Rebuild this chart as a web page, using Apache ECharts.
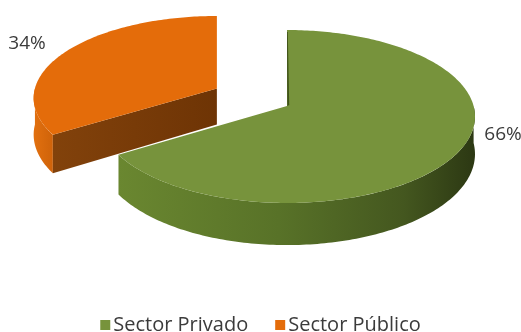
<!DOCTYPE html>
<html>
<head>
<meta charset="utf-8">
<script src="https://cdn.jsdelivr.net/npm/echarts@6/dist/echarts.min.js"></script>
<style>
  html, body { margin: 0; padding: 0; background: #ffffff; }
  #chart { width: 521px; height: 332px; }
</style>
</head>
<body>
<div id="chart"></div>
<script>
// Share of employment by sector (percent)
const categories = ['Sector Privado', 'Sector Público'];
const values = [66, 34];

// Per-slice styling: top face, outer wall gradient, cut face, how far the slice is pulled out
const topColors = ['#77933c', '#e46c0a'];
const wallStops = [
  [['#6a8730', 0], ['#587228', 0.45], ['#44571f', 0.8], ['#2c3813', 1]],
  [['#e2700f', 0], ['#cf630a', 1]]
];
const cutColors = [['#4f6424', '#3d4e1b'], ['#82420b', '#6e3405']];
const edgeColors = ['#3f5219', '#8a4306'];
const explode = [0, 0.44];
const labelAnchors = [[503, 135], [27, 44]];

// Pseudo-3D projection of the pie disc: u to the right, v toward the viewer, z downward
const CX = 287, CY = 106, RX = 186.6, KY = 85.2, PERSP = -0.1214, DEPTH = 37;
function depthScale(v) { return 1 / (1 + PERSP * v); }

const FONT = '"Open Sans", "Noto Sans", sans-serif';
const TEXT_COLOR = '#3b3b3b';

function renderSlice(idx) {
  return function (params, api) {
    const total = values.reduce((a, b) => a + b, 0);
    let before = 0;
    for (let k = 0; k < idx; k++) before += values[k];
    const value = api.value(0);
    const a0 = before / total * Math.PI * 2;
    const a1 = (before + value) / total * Math.PI * 2;
    const mid = (a0 + a1) / 2;
    const ou = explode[idx] * Math.sin(mid);
    const ov = -explode[idx] * Math.cos(mid);
    // apex of the (possibly pulled-out) slice
    const apexX = CX + RX * ou * depthScale(ov);
    const apex = (z) => [apexX, CY + (KY * ov + z * DEPTH) * depthScale(ov)];
    const rim = (t, z) => {
      const v = ov - Math.cos(t);
      const s = depthScale(v);
      return [apexX + RX * Math.sin(t) * s, CY + (KY * v + z * DEPTH) * s];
    };
    const arc = (from, to, z) => {
      const pts = [];
      const n = Math.max(2, Math.ceil(Math.abs(to - from) / (Math.PI / 180)));
      for (let i = 0; i <= n; i++) pts.push(rim(from + (to - from) * i / n, z));
      return pts;
    };
    const children = [];

    // outer wall, only the part facing the viewer
    const w0 = Math.max(a0, Math.PI / 2), w1 = Math.min(a1, Math.PI * 1.5);
    if (w1 > w0) {
      const pts = arc(w0, w1, 0).concat(arc(w1, w0, 1));
      children.push({
        type: 'polygon',
        shape: { points: pts },
        style: {
          fill: {
            type: 'linear', x: 0, y: 0, x2: 1, y2: 0, global: false,
            colorStops: wallStops[idx].map(s => ({ offset: s[1], color: s[0] }))
          }
        }
      });
    }

    // radial cut faces that turn toward the viewer
    const cutFace = (t) => {
      const pts = [apex(0), rim(t, 0), rim(t, 1), apex(1)];
      children.push({
        type: 'polygon',
        shape: { points: pts },
        style: {
          fill: {
            type: 'linear', x: 0, y: 0, x2: 1, y2: 0, global: false,
            colorStops: [{ offset: 0, color: cutColors[idx][0] }, { offset: 1, color: cutColors[idx][1] }]
          }
        }
      });
    };
    if (Math.sin(a0) < -1e-6) cutFace(a0);
    if (Math.sin(a1) > 1e-6) cutFace(a1);

    // top face
    children.push({
      type: 'polygon',
      shape: { points: [apex(0)].concat(arc(a0, a1, 0)) },
      style: { fill: topColors[idx] }
    });

    // thin shaded edge where a cut face is seen edge-on at the back
    if (Math.abs(Math.sin(a0)) < 1e-6 && a1 - a0 > Math.PI) {
      const p = apex(0), q = rim(a0, 0);
      children.push({
        type: 'polygon',
        shape: { points: [[q[0], q[1] + 2], [p[0] + 0.3, p[1]], [p[0] + 2.2, p[1] - 1], [q[0] + 0.8, q[1] + 2]] },
        style: { fill: edgeColors[idx] }
      });
    }

    // percentage label
    children.push({
      type: 'text',
      style: {
        text: Math.round(value / total * 100) + '%',
        x: labelAnchors[idx][0],
        y: labelAnchors[idx][1],
        align: 'center',
        verticalAlign: 'middle',
        fontSize: 19,
        fontFamily: FONT,
        fill: TEXT_COLOR
      }
    });

    return { type: 'group', children: children };
  };
}

// draw the pulled-out slice first so the main slice sits in front of it
const drawOrder = [1, 0];
const series = drawOrder.map((idx, order) => ({
  type: 'custom',
  name: categories[idx],
  coordinateSystem: 'none',
  z: 2 + order,
  itemStyle: { color: topColors[idx] },
  renderItem: renderSlice(idx),
  data: [[values[idx]]]
}));

const chart = echarts.init(document.getElementById('chart'), null, { renderer: 'canvas' });
chart.setOption({
  animation: false,
  backgroundColor: '#ffffff',
  legend: {
    data: categories,
    left: 'center',
    top: 310,
    icon: 'rect',
    itemWidth: 10,
    itemHeight: 10,
    itemGap: 27,
    textStyle: { fontSize: 20, fontFamily: FONT, color: TEXT_COLOR, padding: [0, 0, 0, -2] }
  },
  series: series
});
</script>
</body>
</html>
